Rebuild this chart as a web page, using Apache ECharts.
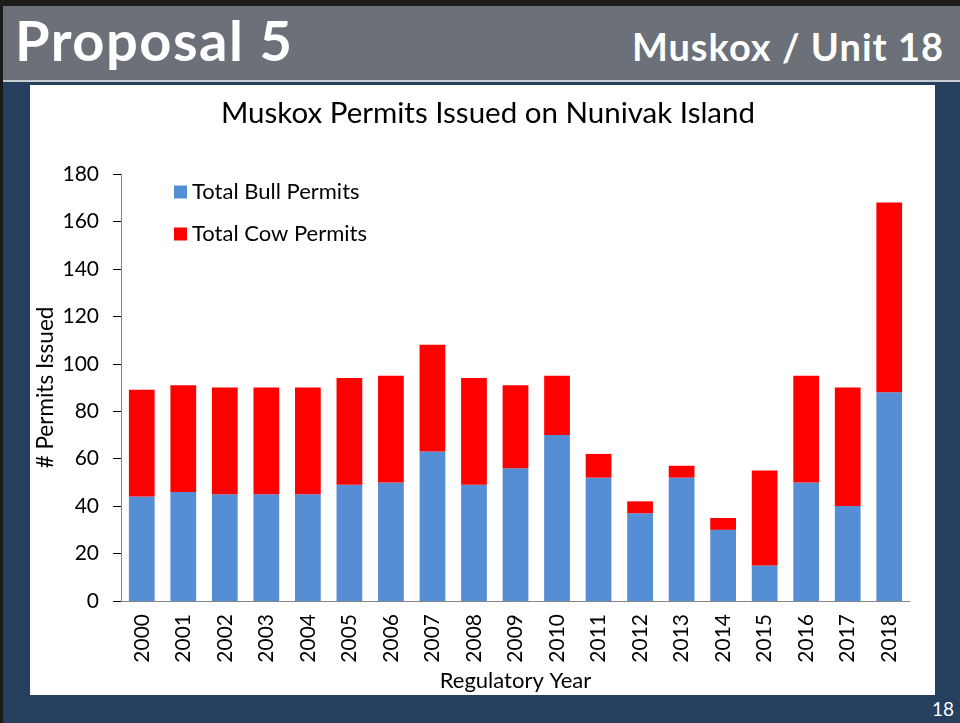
<!DOCTYPE html>
<html>
<head>
<meta charset="utf-8">
<script src="https://cdn.jsdelivr.net/npm/echarts@6/dist/echarts.min.js"></script>
<style>
  html, body { margin: 0; padding: 0; }
  body { width: 960px; height: 723px; background: #263f5e; position: relative; overflow: hidden; font-family: Lato, sans-serif; }
  .edge-top { position: absolute; left: 0; top: 0; width: 960px; height: 6px; background: #1b1b1b; }
  .edge-left { position: absolute; left: 0; top: 0; width: 3px; height: 723px; background: #1b1b1b; }
  .header { position: absolute; left: 3px; top: 6px; width: 957px; height: 74px; background: #6b7079; border-bottom: 2px solid #c9ccd0; }
  .header .main { position: absolute; left: 12px; top: 0px; color: #fff; font-weight: bold; font-size: 56px; letter-spacing: 1.5px; }
  .header .sub { position: absolute; right: 16px; top: 17px; color: #fff; font-weight: bold; font-size: 38px; letter-spacing: 1px; }
  .panel { position: absolute; left: 30px; top: 85px; width: 905px; height: 610px; background: #fff; }
  .page { position: absolute; right: 6px; top: 697px; color: #fff; font-size: 19px; }
  #chart { position: absolute; left: 0; top: 0; width: 960px; height: 723px; }
</style>
</head>
<body>
<div class="edge-top"></div>
<div class="edge-left"></div>
<div class="header">
  <div class="main">Proposal 5</div>
  <div class="sub">Muskox / Unit 18</div>
</div>
<div class="panel"></div>
<div class="page">18</div>
<div id="chart"></div>
<script>
const years = ['2000', '2001', '2002', '2003', '2004', '2005', '2006', '2007', '2008', '2009',
  '2010', '2011', '2012', '2013', '2014', '2015', '2016', '2017', '2018'];
const bullPermits = [44, 46, 45, 45, 45, 49, 50, 63, 49, 56, 70, 52, 37, 52, 30, 15, 50, 40, 88];
const cowPermits = [45, 45, 45, 45, 45, 45, 45, 45, 45, 35, 25, 10, 5, 5, 5, 40, 45, 50, 80];

const chart = echarts.init(document.getElementById('chart'));
const textColor = '#000';
const fontFamily = 'Lato, sans-serif';

chart.setOption({
  animation: false,
  backgroundColor: 'transparent',
  title: {
    text: 'Muskox Permits Issued on Nunivak Island',
    left: 483,
    textAlign: 'center',
    top: 93,
    textStyle: {
      fontFamily,
      fontSize: 29.5,
      fontWeight: 'normal',
      color: textColor,
    },
  },
  legend: {
    orient: 'vertical',
    left: 169,
    top: 176,
    itemWidth: 13,
    itemHeight: 13,
    itemGap: 20,
    icon: 'rect',
    textStyle: {
      fontFamily,
      fontSize: 22,
      color: textColor,
    },
    data: ['Total Bull Permits', 'Total Cow Permits'],
  },
  grid: {
    left: 121,
    right: 50,
    top: 174,
    bottom: 122,
  },
  xAxis: {
    type: 'category',
    data: years,
    name: 'Regulatory Year',
    nameLocation: 'middle',
    nameGap: 69,
    nameMoveOverlap: false,
    nameTextStyle: {
      fontFamily,
      fontSize: 22,
      color: textColor,
    },
    axisLine: {
      lineStyle: { color: '#868686', width: 1 },
    },
    axisTick: {
      length: 6,
      lineStyle: { color: '#000' },
    },
    axisLabel: {
      rotate: 90,
      margin: 13,
      fontFamily,
      fontSize: 21,
      color: textColor,
    },
  },
  yAxis: {
    type: 'value',
    min: 0,
    max: 180,
    interval: 20,
    name: '# Permits Issued',
    nameLocation: 'middle',
    nameGap: 64,
    nameMoveOverlap: false,
    nameTextStyle: {
      fontFamily,
      fontSize: 22.5,
      color: textColor,
    },
    axisLine: {
      show: true,
      lineStyle: { color: '#868686', width: 1 },
    },
    axisTick: {
      show: true,
      length: 8,
      lineStyle: { color: '#000' },
    },
    axisLabel: {
      margin: 22,
      fontFamily,
      fontSize: 21,
      color: textColor,
    },
    splitLine: { show: false },
  },
  series: [
    {
      name: 'Total Bull Permits',
      type: 'bar',
      stack: 'permits',
      barWidth: '62%',
      itemStyle: { color: '#558ed5' },
      data: bullPermits,
    },
    {
      name: 'Total Cow Permits',
      type: 'bar',
      stack: 'permits',
      barWidth: '62%',
      itemStyle: { color: '#ff0000' },
      data: cowPermits,
    },
  ],
});
</script>
</body>
</html>
